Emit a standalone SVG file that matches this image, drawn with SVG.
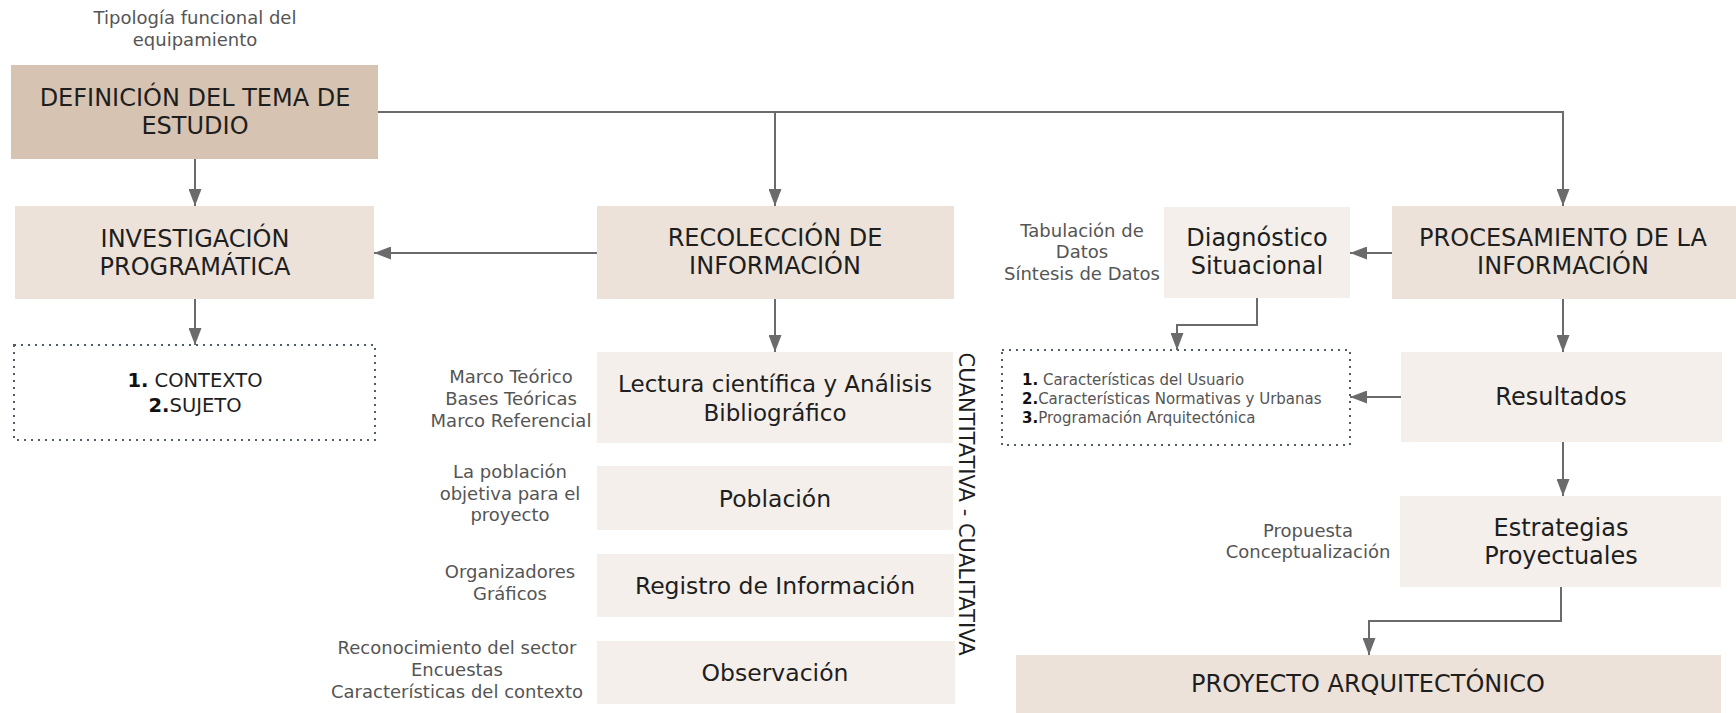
<svg xmlns="http://www.w3.org/2000/svg" width="1736" height="713" viewBox="0 0 1736 713">
<defs>
<marker id="ah" viewBox="0 0 17 13" refX="17" refY="6.5" markerWidth="17" markerHeight="13" markerUnits="userSpaceOnUse" orient="auto">
<path d="M0,0 L17,6.5 L0,13 z" fill="#6b6b6b"/>
</marker>
<style>
.t{font-family:"DejaVu Sans",Verdana,sans-serif;fill:#1e1e1e;text-anchor:middle}
.h{font-size:24px}
.b{font-size:23.5px}
.lab{font-family:"DejaVu Sans",Verdana,sans-serif;font-size:18px;fill:#555;text-anchor:middle}
.n1{fill:#d7c3b1}
.n2{fill:#ece2d9}
.n3{fill:#f4efea}
.dot{fill:none;stroke:#4f5d6b;stroke-width:2;stroke-dasharray:2 5}
.c{fill:none;stroke:#6b6b6b;stroke-width:2}
.num{font-weight:bold;fill:#111}
</style>
</defs>

<g id="tipologia">
<text class="lab" x="195" y="24">Tipología funcional del</text>
<text class="lab" x="195" y="46">equipamiento</text>
</g>

<g id="definicion">
<rect class="n1" x="11" y="65" width="367" height="94"/>
<text class="t h" x="195" y="106">DEFINICIÓN DEL TEMA DE</text>
<text class="t h" x="195" y="134">ESTUDIO</text>
</g>

<g id="investigacion">
<rect class="n2" x="15" y="206" width="359" height="93"/>
<text class="t h" x="195" y="247">INVESTIGACIÓN</text>
<text class="t h" x="195" y="275">PROGRAMÁTICA</text>
</g>

<g id="contexto-sujeto">
<rect class="dot" x="14" y="345" width="361" height="95"/>
<text class="t" style="font-size:19.5px" x="195" y="387"><tspan class="num">1.</tspan> CONTEXTO</text>
<text class="t" style="font-size:19.5px" x="195" y="412"><tspan class="num">2.</tspan>SUJETO</text>
</g>

<g id="recoleccion">
<rect class="n2" x="597" y="206" width="357" height="93"/>
<text class="t h" x="775" y="246">RECOLECCIÓN DE</text>
<text class="t h" x="775" y="274">INFORMACIÓN</text>
</g>

<g id="lectura">
<rect class="n3" x="597" y="352" width="356" height="91"/>
<text class="t" style="font-size:23px" x="775" y="392">Lectura científica y Análisis</text>
<text class="t" style="font-size:23px" x="775" y="421">Bibliográfico</text>
</g>
<g id="lectura-label">
<text class="lab" x="511" y="383">Marco Teórico</text>
<text class="lab" x="511" y="405">Bases Teóricas</text>
<text class="lab" x="511" y="427">Marco Referencial</text>
</g>

<g id="poblacion">
<rect class="n3" x="597" y="466" width="356" height="64"/>
<text class="t b" x="775" y="507">Población</text>
</g>
<g id="poblacion-label">
<text class="lab" x="510" y="478">La población</text>
<text class="lab" x="510" y="500">objetiva para el</text>
<text class="lab" x="510" y="521">proyecto</text>
</g>

<g id="registro">
<rect class="n3" x="597" y="554" width="357" height="63"/>
<text class="t b" x="775" y="594">Registro de Información</text>
</g>
<g id="registro-label">
<text class="lab" x="510" y="578">Organizadores</text>
<text class="lab" x="510" y="600">Gráficos</text>
</g>

<g id="observacion">
<rect class="n3" x="597" y="641" width="358" height="63"/>
<text class="t b" x="775" y="681">Observación</text>
</g>
<g id="observacion-label">
<text class="lab" x="457" y="654">Reconocimiento del sector</text>
<text class="lab" x="457" y="676">Encuestas</text>
<text class="lab" x="457" y="698">Características del contexto</text>
</g>

<g id="enfoque">
<text class="t" style="font-size:21px" transform="translate(959,504) rotate(90)" x="0" y="0">CUANTITATIVA - CUALITATIVA</text>
</g>

<g id="diagnostico">
<rect class="n3" x="1164" y="207" width="186" height="91"/>
<text class="t h" x="1257" y="246">Diagnóstico</text>
<text class="t h" x="1257" y="274">Situacional</text>
</g>
<g id="diagnostico-label">
<text class="lab" x="1082" y="237">Tabulación de</text>
<text class="lab" x="1082" y="258">Datos</text>
<text class="lab" x="1082" y="280">Síntesis de Datos</text>
</g>

<g id="caracteristicas">
<rect class="dot" x="1002" y="350" width="348" height="95"/>
<text class="t" style="font-size:15px;text-anchor:start;fill:#555" x="1022" y="385"><tspan class="num">1.</tspan> Características del Usuario</text>
<text class="t" style="font-size:15px;text-anchor:start;fill:#555" x="1022" y="404"><tspan class="num">2.</tspan>Características Normativas y Urbanas</text>
<text class="t" style="font-size:15px;text-anchor:start;fill:#555" x="1022" y="423"><tspan class="num">3.</tspan>Programación Arquitectónica</text>
</g>

<g id="procesamiento">
<rect class="n2" x="1392" y="206" width="344" height="93"/>
<text class="t h" x="1563" y="246">PROCESAMIENTO DE LA</text>
<text class="t h" x="1563" y="274">INFORMACIÓN</text>
</g>

<g id="resultados">
<rect class="n3" x="1401" y="352" width="321" height="90"/>
<text class="t h" x="1561" y="405">Resultados</text>
</g>

<g id="estrategias">
<rect class="n3" x="1400" y="496" width="321" height="91"/>
<text class="t h" x="1561" y="536">Estrategias</text>
<text class="t h" x="1561" y="564">Proyectuales</text>
</g>
<g id="estrategias-label">
<text class="lab" x="1308" y="537">Propuesta</text>
<text class="lab" x="1308" y="558">Conceptualización</text>
</g>

<g id="proyecto">
<rect class="n2" x="1016" y="655" width="705" height="60"/>
<text class="t h" x="1368" y="692">PROYECTO ARQUITECTÓNICO</text>
</g>

<g id="connectors">
<path class="c" d="M195,159 V206" marker-end="url(#ah)"/>
<path class="c" d="M378,112 H1563 V206" marker-end="url(#ah)"/>
<path class="c" d="M775,112 V206" marker-end="url(#ah)"/>
<path class="c" d="M597,253 H374" marker-end="url(#ah)"/>
<path class="c" d="M195,299 V345" marker-end="url(#ah)"/>
<path class="c" d="M775,299 V352" marker-end="url(#ah)"/>
<path class="c" d="M1392,253 H1350" marker-end="url(#ah)"/>
<path class="c" d="M1257,298 V325 H1177 V350" marker-end="url(#ah)"/>
<path class="c" d="M1563,299 V352" marker-end="url(#ah)"/>
<path class="c" d="M1401,397 H1350" marker-end="url(#ah)"/>
<path class="c" d="M1563,442 V496" marker-end="url(#ah)"/>
<path class="c" d="M1561,587 V621 H1369 V655" marker-end="url(#ah)"/>
</g>
</svg>
